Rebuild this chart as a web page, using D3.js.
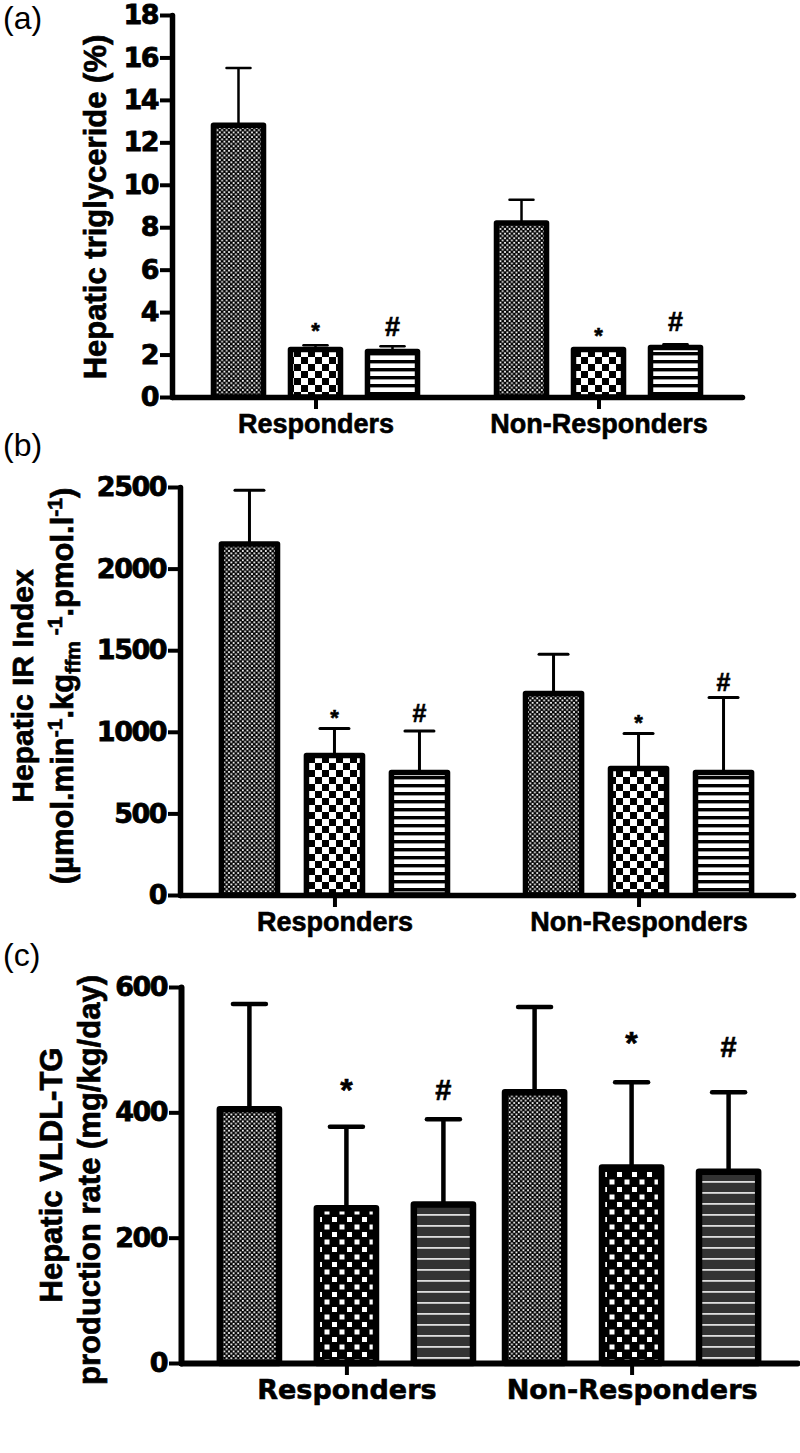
<!DOCTYPE html>
<html>
<head>
<meta charset="utf-8">
<script src="https://cdnjs.cloudflare.com/ajax/libs/d3/7.8.5/d3.min.js"></script>
<style>
  body { margin: 0; background: #fff; }
</style>
</head>
<body>
<div id="chart"></div>
<script>
// categories and series
const groups = ["Responders", "Non-Responders"];

// (a) hepatic triglyceride (%)
const tgMean = [[12.8, 2.24, 2.14], [8.2, 2.24, 2.33]];
const tgErr = [[2.7, 0.2, 0.25], [1.1, 0.06, 0.15]];
const tgSig = [["", "*", "#"], ["", "*", "#"]];
const tgSigAt = [[0, 3.15, 3.3], [0, 2.9, 3.55]];
const tgTicks = [0, 2, 4, 6, 8, 10, 12, 14, 16, 18];

// (b) hepatic IR index
const irMean = [[2150, 855, 750], [1235, 775, 750]];
const irErr = [[330, 165, 255], [240, 215, 460]];
const irSig = [["", "*", "#"], ["", "*", "#"]];
const irSigAt = [[0, 1090, 1115], [0, 1055, 1305]];
const irTicks = [0, 500, 1000, 1500, 2000, 2500];

// (c) hepatic VLDL-TG production rate
const vlMean = [[405, 247, 253], [432, 312, 305]];
const vlErr = [[168, 130, 136], [136, 136, 127]];
const vlSig = [["", "*", "#"], ["", "*", "#"]];
const vlSigAt = [[0, 436, 436], [0, 511, 504]];
const vlTicks = [0, 200, 400, 600];

const svg = d3.select("#chart").append("svg")
    .attr("width", 800)
    .attr("height", 1453);

// fill patterns
const defs = svg.append("defs");

function pattern(id, w, h) {
    return defs.append("pattern")
        .attr("id", id)
        .attr("patternUnits", "userSpaceOnUse")
        .attr("width", w)
        .attr("height", h);
}

let p = pattern("dots", 4.6, 4.6);
p.append("rect").attr("width", 4.6).attr("height", 4.6).attr("fill", "#000");
p.append("rect").attr("x", 0.4).attr("y", 0.4).attr("width", 1.8).attr("height", 1.8).attr("fill", "#fff");
p.append("rect").attr("x", 2.7).attr("y", 2.7).attr("width", 1.8).attr("height", 1.8).attr("fill", "#fff");

p = pattern("check", 14, 14);
p.append("rect").attr("width", 14).attr("height", 14).attr("fill", "#fff");
p.append("rect").attr("width", 7).attr("height", 7).attr("fill", "#000");
p.append("rect").attr("x", 7).attr("y", 7).attr("width", 7).attr("height", 7).attr("fill", "#000");

p = pattern("stripes", 8, 8);
p.append("rect").attr("width", 8).attr("height", 8).attr("fill", "#fff");
p.append("rect").attr("width", 8).attr("height", 3.4).attr("fill", "#000");

p = pattern("checkC", 15, 15);
p.append("rect").attr("width", 15).attr("height", 15).attr("fill", "#000");
p.append("rect").attr("x", 2).attr("y", 2).attr("width", 5).attr("height", 5).attr("fill", "#fff");
p.append("rect").attr("x", 9.5).attr("y", 9.5).attr("width", 5).attr("height", 5).attr("fill", "#fff");

p = pattern("stripesC", 11, 11);
p.append("rect").attr("width", 11).attr("height", 11).attr("fill", "#333");
p.append("rect").attr("y", 4).attr("width", 11).attr("height", 1.8).attr("fill", "#ddd");

const boldFont = "'Liberation Sans', Arial, sans-serif";
const heavyFont = "'DejaVu Sans', sans-serif";

function drawPanel(cfg) {
    const y = d3.scaleLinear().domain(cfg.domain).range(cfg.yRange);
    const gx = d3.scalePoint().domain(groups).range(cfg.xRange).padding(cfg.groupPad);
    const half = cfg.barStep * 1.5;
    const sub = d3.scaleBand().domain([0, 1, 2]).range([-half, half])
        .paddingInner(cfg.barPad).paddingOuter(cfg.barPad / 2);
    const fills = cfg.fills;

    const g = svg.append("g");

    // bars
    groups.forEach((grp, gi) => {
        cfg.mean[gi].forEach((v, i) => {
            const cx = gx(grp) + sub(i) + sub.bandwidth() / 2;
            const top = y(v + cfg.err[gi][i]);
            // error bar
            g.append("line")
                .attr("x1", cx).attr("x2", cx)
                .attr("y1", y(v)).attr("y2", top)
                .attr("stroke", "#000").attr("stroke-width", cfg.errWidth);
            g.append("line")
                .attr("x1", cx - cfg.cap / 2).attr("x2", cx + cfg.cap / 2)
                .attr("y1", top).attr("y2", top)
                .attr("stroke", "#000").attr("stroke-width", cfg.errWidth)
                .attr("stroke-linecap", "round");
            g.append("rect")
                .attr("x", gx(grp) + sub(i))
                .attr("y", y(v))
                .attr("width", sub.bandwidth())
                .attr("height", y(0) - y(v))
                .attr("fill", `url(#${fills[i]})`)
                .attr("stroke", "#000")
                .attr("stroke-width", cfg.barStroke)
                .attr("stroke-linejoin", "round");
            if (cfg.sig[gi][i]) {
                const s = cfg.sig[gi][i];
                g.append("text")
                    .attr("x", cx)
                    .attr("y", y(cfg.sigAt[gi][i]))
                    .attr("text-anchor", "middle")
                    .attr("dominant-baseline", "central")
                    .attr("font-family", boldFont)
                    .attr("font-weight", "bold")
                    .attr("font-size", s === "*" ? cfg.starSize : cfg.hashSize)
                    .attr("stroke", "#000")
                    .attr("stroke-width", 0.6)
                    .text(s);
            }
        });
    });

    // y axis
    const ya = g.append("g")
        .attr("transform", `translate(${cfg.xRange[0]},0)`)
        .call(d3.axisLeft(y).tickValues(cfg.ticks).tickFormat(d3.format("d"))
            .tickSize(12).tickSizeOuter(0).tickPadding(2));
    ya.select(".domain").attr("stroke-width", cfg.axisWidth).attr("stroke-linecap", "round");
    ya.selectAll(".tick line").attr("stroke-width", 4);
    ya.selectAll(".tick text")
        .style("font-family", heavyFont)
        .style("font-weight", "bold")
        .style("font-size", "27px")
        .attr("letter-spacing", "-1.5px")
        .attr("stroke", "#000")
        .attr("stroke-width", 0.8)
        .attr("fill", "#000");

    // x axis
    const xa = g.append("g")
        .attr("transform", `translate(0,${cfg.yRange[0]})`)
        .call(d3.axisBottom(gx).tickSize(12).tickSizeOuter(0).tickPadding(5));
    xa.select(".domain").attr("stroke-width", cfg.axisWidth).attr("stroke-linecap", "round");
    xa.selectAll(".tick line").attr("stroke-width", 4);
    xa.selectAll(".tick text")
        .style("font-family", cfg.catFont)
        .style("font-weight", "bold")
        .style("font-size", cfg.catSize + "px")
        .attr("stroke", "#000")
        .attr("stroke-width", 0.6)
        .attr("fill", "#000");

    // panel letter
    svg.append("text")
        .attr("x", 3)
        .attr("y", cfg.letterY)
        .attr("font-family", boldFont)
        .attr("font-size", 32)
        .text(cfg.letter);
}

drawPanel({
    letter: "(a)", letterY: 29,
    domain: [0, 18], yRange: [397, 15], xRange: [172, 742],
    ticks: tgTicks, mean: tgMean, err: tgErr, sig: tgSig, sigAt: tgSigAt,
    groupPad: 0.507, barStep: 77, barPad: 0.35, barStroke: 5.5, axisWidth: 5.5,
    errWidth: 2.5, cap: 24, starSize: 22, hashSize: 27,
    fills: ["dots", "check", "stripes"], catFont: boldFont, catSize: 27
});

drawPanel({
    letter: "(b)", letterY: 456,
    domain: [0, 2500], yRange: [895, 487], xRange: [180, 793],
    ticks: irTicks, mean: irMean, err: irErr, sig: irSig, sigAt: irSigAt,
    groupPad: 0.508, barStep: 85, barPad: 0.34, barStroke: 5.5, axisWidth: 5.5,
    errWidth: 3, cap: 29, starSize: 22, hashSize: 25,
    fills: ["dots", "check", "stripes"], catFont: boldFont, catSize: 27
});

drawPanel({
    letter: "(c)", letterY: 966,
    domain: [0, 600], yRange: [1363, 987], xRange: [181, 797],
    ticks: vlTicks, mean: vlMean, err: vlErr, sig: vlSig, sigAt: vlSigAt,
    groupPad: 0.58, barStep: 97, barPad: 0.39, barStroke: 6.5, axisWidth: 6,
    errWidth: 4.5, cap: 33, starSize: 32, hashSize: 29,
    fills: ["dots", "checkC", "stripesC"], catFont: heavyFont, catSize: 27
});

// y axis titles
function rotText(x, yc, size) {
    return svg.append("text")
        .attr("transform", `translate(${x},${yc}) rotate(-90)`)
        .attr("text-anchor", "middle")
        .attr("font-family", boldFont)
        .attr("font-weight", "bold")
        .attr("font-size", size)
        .attr("stroke", "#000")
        .attr("stroke-width", 0.7);
}

rotText(106, 207, 31).text("Hepatic triglyceride (%)");

rotText(33, 686, 30).text("Hepatic IR Index");
const unit = rotText(73, 686, 31);
unit.append("tspan").text("(µmol.min");
unit.append("tspan").attr("dy", -11).attr("font-size", 21).text("-1");
unit.append("tspan").attr("dy", 11).text(".kg");
unit.append("tspan").attr("dy", 7).attr("font-size", 21).text("ffm");
unit.append("tspan").attr("dy", -18).attr("font-size", 21).text(" -1");
unit.append("tspan").attr("dy", 11).text(".pmol.l");
unit.append("tspan").attr("dy", -11).attr("font-size", 21).text("-1");
unit.append("tspan").attr("dy", 11).text(")");

rotText(62, 1175, 31).text("Hepatic VLDL-TG");
rotText(100, 1180, 31).text("production rate (mg/kg/day)");
</script>
</body>
</html>
